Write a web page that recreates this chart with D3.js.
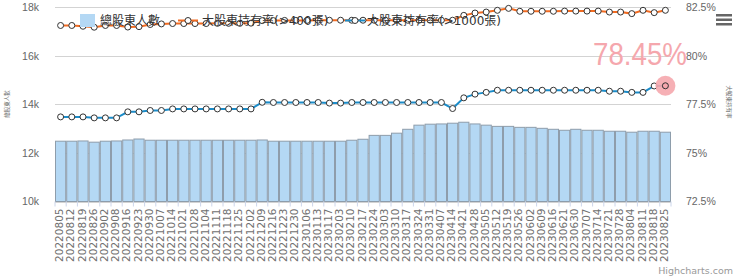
<!DOCTYPE html>
<html>
<head>
<meta charset="utf-8">
<script src="https://cdn.jsdelivr.net/npm/d3@7"></script>
<style>
  body { margin: 0; background: #fff; }
  svg { display: block; font-family: "DejaVu Sans", "Noto Sans CJK TC", sans-serif; }
</style>
</head>
<body>
<svg id="chart"></svg>
<script>
// weekly dates
const dates = ['20220805', '20220812', '20220819', '20220826', '20220902', '20220908', '20220916', '20220923', '20220930',
    '20221007', '20221014', '20221021', '20221028', '20221104', '20221111', '20221118', '20221125', '20221202',
    '20221209', '20221216', '20221223', '20221230', '20230106', '20230113', '20230117', '20230203', '20230210',
    '20230217', '20230224', '20230303', '20230310', '20230317', '20230324', '20230331', '20230407', '20230414',
    '20230421', '20230428', '20230505', '20230512', '20230519', '20230526', '20230602', '20230609', '20230616',
    '20230621', '20230630', '20230707', '20230714', '20230721', '20230728', '20230804', '20230811', '20230818',
    '20230825'];

// 總股東人數
const holders = [12480, 12480, 12490, 12440, 12480, 12490, 12530, 12570, 12520,
    12520, 12520, 12520, 12520, 12520, 12520, 12520, 12520, 12520,
    12530, 12480, 12480, 12480, 12480, 12480, 12480, 12480, 12520,
    12560, 12720, 12720, 12810, 12970, 13140, 13180, 13190, 13220,
    13260, 13190, 13140, 13090, 13090, 13050, 13050, 13010, 12970,
    12930, 12970, 12930, 12930, 12890, 12890, 12850, 12890, 12890,
    12850];

// 大股東持有率(>400張)
const pct400 = [81.55, 81.55, 81.51, 81.46, 81.55, 81.55, 81.47, 81.49, 81.60,
    81.63, 81.65, 81.65, 81.65, 81.65, 81.66, 81.66, 81.66, 81.67,
    81.80, 81.80, 81.81, 81.81, 81.81, 81.82, 81.82, 81.82, 81.82,
    81.82, 81.82, 81.82, 81.82, 81.82, 81.82, 81.82, 81.82, 81.82,
    82.07, 82.19, 82.24, 82.33, 82.43, 82.28, 82.28, 82.28, 82.28,
    82.29, 82.29, 82.29, 82.29, 82.24, 82.24, 82.16, 82.33, 82.21,
    82.33];

// 大股東持有率(>1000張)
const pct1000 = [76.85, 76.85, 76.85, 76.80, 76.80, 76.80, 77.11, 77.11, 77.18,
    77.18, 77.26, 77.26, 77.26, 77.26, 77.26, 77.26, 77.26, 77.26,
    77.60, 77.59, 77.59, 77.59, 77.59, 77.59, 77.56, 77.56, 77.59,
    77.59, 77.59, 77.59, 77.59, 77.59, 77.59, 77.59, 77.59, 77.28,
    77.83, 78.02, 78.11, 78.22, 78.22, 78.22, 78.22, 78.22, 78.22,
    78.22, 78.22, 78.22, 78.22, 78.17, 78.17, 78.11, 78.11, 78.44,
    78.45];

const leftTicks = [10000, 12000, 14000, 16000, 18000];
const rightTicks = [72.5, 75, 77.5, 80, 82.5];
const seriesNames = ['總股東人數', '大股東持有率(>400張)', '大股東持有率(>1000張)'];

const W = 740, H = 279;
const plot = { left: 55, right: 671, top: 7, bottom: 201.5 };
const barColor = '#b4d8f4', orange = '#f26b21', blue = '#1b8cc9';

const svg = d3.select('#chart').attr('width', W).attr('height', H);

// scales
const x = d3.scaleBand().domain(dates).range([plot.left, plot.right]).padding(0);
const yLeft = d3.scaleLinear().domain([10000, 18000]).range([plot.bottom, plot.top]);
const yRight = d3.scaleLinear().domain([72.5, 82.5]).range([plot.bottom, plot.top]);

// grid lines
svg.append('g')
    .selectAll('line')
    .data(leftTicks)
    .join('line')
    .attr('x1', plot.left).attr('x2', plot.right)
    .attr('y1', d => Math.round(yLeft(d)) + 0.5).attr('y2', d => Math.round(yLeft(d)) + 0.5)
    .attr('stroke', '#d3d3d3');

// bars
svg.append('g')
    .selectAll('rect')
    .data(holders)
    .join('rect')
    .attr('x', (d, i) => x(dates[i]) + 0.5)
    .attr('y', d => yLeft(d))
    .attr('width', x.bandwidth() - 1)
    .attr('height', d => plot.bottom - yLeft(d))
    .attr('fill', barColor)
    .attr('stroke', '#8e9dab')
    .attr('stroke-width', 1);

// x ticks between categories
svg.append('g')
    .selectAll('line')
    .data(d3.range(dates.length + 1))
    .join('line')
    .attr('x1', i => plot.left + i * x.step()).attr('x2', i => plot.left + i * x.step())
    .attr('y1', plot.bottom).attr('y2', plot.bottom + 5)
    .attr('stroke', '#ccd6eb');

// x labels
svg.append('g')
    .selectAll('text')
    .data(dates)
    .join('text')
    .attr('transform', d => `translate(${x(d) + x.bandwidth() / 2 - 1},${plot.bottom + 7}) rotate(-90)`)
    .attr('dy', '0.35em')
    .attr('text-anchor', 'end')
    .attr('font-size', 10.5)
    .attr('fill', '#707070')
    .text(d => d);

// left axis
const leftAxis = svg.append('g')
    .attr('transform', `translate(${plot.left},0)`)
    .call(d3.axisLeft(yLeft).tickValues(leftTicks).tickSize(0).tickPadding(16).tickFormat(d => d / 1000 + 'k'));
leftAxis.select('.domain').remove();
leftAxis.selectAll('text').attr('font-size', 10.5).attr('fill', '#666').attr('font-family', null);

// right axis
const rightAxis = svg.append('g')
    .attr('transform', `translate(${plot.right},0)`)
    .call(d3.axisRight(yRight).tickValues(rightTicks).tickSize(0).tickPadding(15).tickFormat(d => d + '%'));
rightAxis.select('.domain').remove();
rightAxis.selectAll('text').attr('font-size', 10.5).attr('fill', '#666').attr('font-family', null);

// axis titles
svg.append('text')
    .attr('transform', 'translate(9,104) rotate(-90)')
    .attr('text-anchor', 'middle')
    .attr('font-size', 5.5)
    .attr('fill', '#666')
    .text('總股東人數');
svg.append('text')
    .attr('transform', 'translate(727,102) rotate(90)')
    .attr('text-anchor', 'middle')
    .attr('font-size', 5.5)
    .attr('fill', '#666')
    .text('大股東持有率');

// lines
function drawLine(values, color) {
    const line = d3.line()
        .x((d, i) => x(dates[i]) + x.bandwidth() / 2)
        .y(d => yRight(d));
    svg.append('path')
        .datum(values)
        .attr('d', line)
        .attr('fill', 'none')
        .attr('stroke', color)
        .attr('stroke-width', 2);
    svg.append('g')
        .selectAll('circle')
        .data(values)
        .join('circle')
        .attr('cx', (d, i) => x(dates[i]) + x.bandwidth() / 2)
        .attr('cy', d => yRight(d))
        .attr('r', 3)
        .attr('fill', '#fff')
        .attr('stroke', '#333')
        .attr('stroke-width', 1);
}
drawLine(pct400, orange);
drawLine(pct1000, blue);

// hover state on the last point
const lastIdx = dates.length - 1;
const lx = x(dates[lastIdx]) + x.bandwidth() / 2, ly = yRight(pct1000[lastIdx]);
svg.append('circle').attr('cx', lx).attr('cy', ly).attr('r', 10)
    .attr('fill', '#f5a7ad').attr('opacity', 0.9);
svg.append('circle').attr('cx', lx).attr('cy', ly).attr('r', 3)
    .attr('fill', '#f5a7ad').attr('stroke', '#333').attr('stroke-width', 1);
svg.append('text')
    .attr('x', 593).attr('y', 65)
    .attr('textLength', 94)
    .attr('lengthAdjust', 'spacingAndGlyphs')
    .attr('font-family', '"Liberation Sans", Arial, sans-serif')
    .attr('font-size', 32)
    .attr('fill', '#f5a7ad')
    .text(pct1000[lastIdx].toFixed(2) + '%');

// legend
const legend = svg.append('g').attr('font-size', 12).attr('fill', '#333');
legend.append('rect').attr('x', 80).attr('y', 14).attr('width', 15).attr('height', 13).attr('fill', barColor);
legend.append('text').attr('x', 100).attr('y', 25).text(seriesNames[0]);

const legendLines = [
    { x0: 178, name: seriesNames[1], color: orange, tx: 202 },
    { x0: 345, name: seriesNames[2], color: blue, tx: 367 }
];
legendLines.forEach(l => {
    legend.append('line').attr('x1', l.x0).attr('x2', l.x0 + 20).attr('y1', 20.5).attr('y2', 20.5)
        .attr('stroke', l.color).attr('stroke-width', 2);
    legend.append('circle').attr('cx', l.x0 + 10).attr('cy', 20.5).attr('r', 3)
        .attr('fill', '#fff').attr('stroke', '#333');
    legend.append('text').attr('x', l.tx).attr('y', 25).text(l.name);
});

// menu button
svg.append('g')
    .selectAll('rect')
    .data([14, 18.5, 23])
    .join('rect')
    .attr('x', 716).attr('y', d => d).attr('width', 16).attr('height', 2.5)
    .attr('fill', '#666');

// credits
svg.append('text')
    .attr('x', 733).attr('y', 274)
    .attr('text-anchor', 'end')
    .attr('font-size', 9.5)
    .attr('fill', '#999')
    .text('Highcharts.com');
</script>
</body>
</html>
